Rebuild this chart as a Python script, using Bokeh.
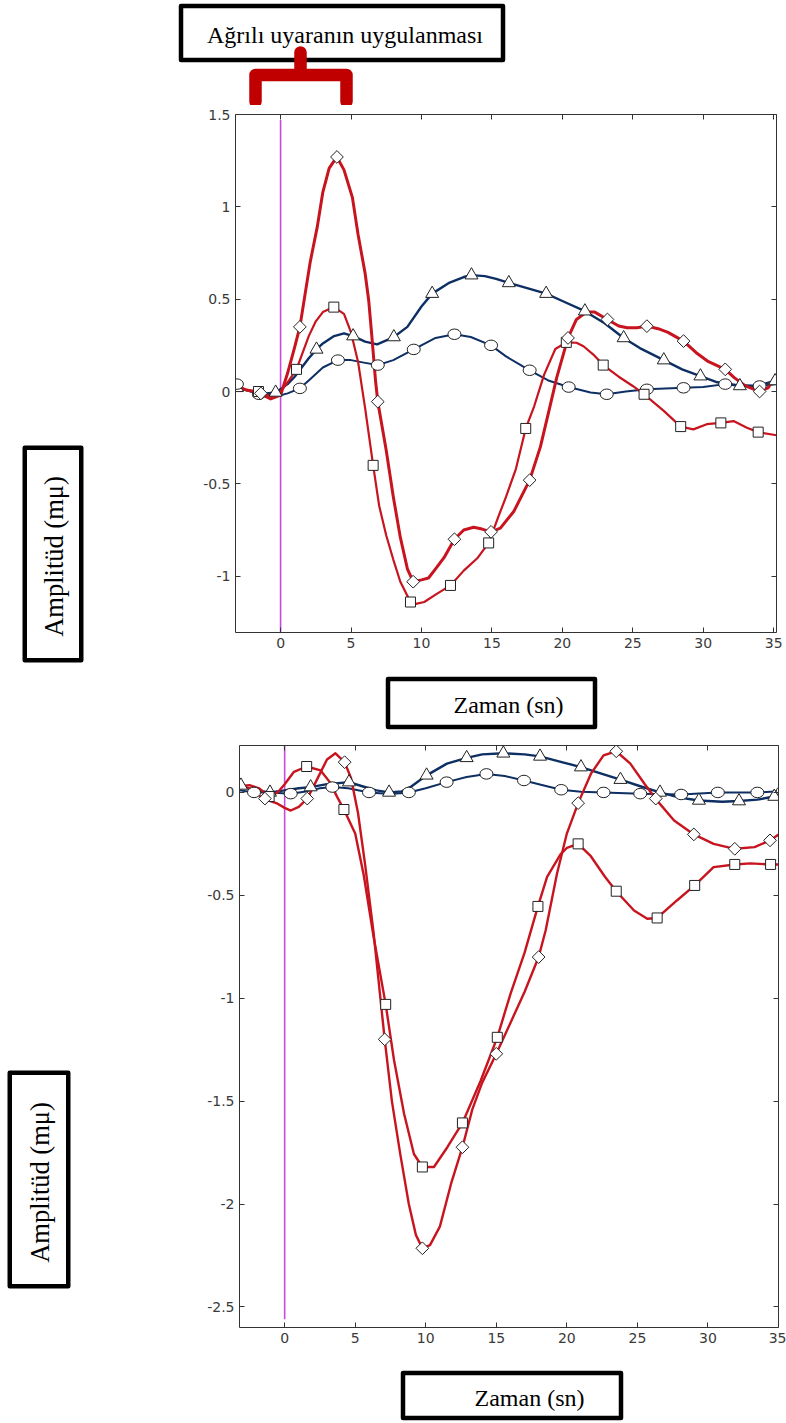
import math
from bokeh.plotting import figure
from bokeh.models import Range1d, LinearAxis, FixedTicker, CustomJSTickFormatter
from bokeh.layouts import column, row
from bokeh.core.properties import value
from bokeh.embed import file_html
from bokeh.resources import INLINE

# ---------------- data: upper panel ----------------
top_dia_x = [-3.2, -2.5, -1.5, -0.7, 0.0, 0.5, 1.0, 1.37, 2.1, 2.6, 3.0, 3.45, 4.0, 4.5, 5.1,
             5.5, 6.0, 6.26, 6.5, 6.74, 6.9, 7.5, 8.0, 8.5, 9.0, 9.41, 10.0, 10.5, 11.0, 11.6,
             12.34, 13.0, 13.7, 14.3, 14.94, 15.6, 16.55, 17.68, 18.44, 19.0, 19.6, 20.4, 21.0,
             21.7, 22.3, 23.2, 24.0, 24.6, 25.3, 26.0, 26.8, 27.5, 28.6, 29.5, 30.3, 31.56, 32.2,
             33.0, 34.0, 34.6, 35.2]
top_dia_y = [0.03, 0.01, -0.01, -0.04, -0.02, 0.1, 0.24, 0.35, 0.7, 0.89, 1.08, 1.21, 1.27, 1.2, 1.05,
             0.85, 0.64, 0.49, 0.28, 0.057, -0.055, -0.32, -0.57, -0.79, -0.96, -1.03, -1.02, -1.01,
             -0.96, -0.90, -0.80, -0.75, -0.735, -0.745, -0.76, -0.74, -0.65, -0.48, -0.30, -0.12,
             0.075, 0.29, 0.39, 0.43, 0.43, 0.39, 0.355, 0.345, 0.345, 0.354, 0.34, 0.32, 0.273,
             0.21, 0.165, 0.12, 0.075, 0.03, 0.0, 0.02, 0.09]
top_dia_mx = [-1.4, 1.37, 4.0, 6.9, 9.41, 12.34, 14.94, 17.68, 20.4, 23.2, 26.0, 28.6, 31.56, 34.0]
top_dia_my = [-0.01, 0.35, 1.27, -0.055, -1.03, -0.80, -0.76, -0.48, 0.29, 0.39, 0.354, 0.273, 0.12, 0.0]

top_sq_x = [-3.2, -2.5, -1.5, -0.6, 0.0, 0.5, 1.13, 2.0, 2.5, 3.0, 3.78, 4.5, 5.0, 5.5, 6.0,
            6.57, 7.0, 7.5, 8.0, 8.5, 9.22, 9.6, 10.2, 11.0, 12.06, 13.0, 14.0, 14.77, 15.5, 16.0,
            16.7, 17.4, 18.0, 18.7, 19.5, 20.28, 21.0, 21.5, 22.2, 22.9, 24.0, 25.0, 25.8, 26.5,
            27.2, 28.4, 29.3, 30.25, 31.25, 32.15, 33.1, 33.9, 35.2]
top_sq_y = [0.02, 0.01, 0.0, -0.03, 0.0, 0.05, 0.12, 0.3, 0.38, 0.43, 0.457, 0.42, 0.32, 0.16, -0.09,
            -0.40, -0.62, -0.78, -0.91, -1.03, -1.14, -1.15, -1.14, -1.10, -1.05, -0.97, -0.9, -0.82,
            -0.67, -0.57, -0.42, -0.2, -0.08, 0.09, 0.23, 0.266, 0.264, 0.245, 0.2, 0.143, 0.08,
            0.03, -0.015, -0.06, -0.105, -0.19, -0.205, -0.177, -0.17, -0.16, -0.196, -0.22, -0.237]
top_sq_mx = [-1.57, 1.13, 3.78, 6.57, 9.22, 12.06, 14.77, 17.4, 20.28, 22.9, 25.8, 28.4, 31.25, 33.9]
top_sq_my = [0.0, 0.12, 0.457, -0.40, -1.14, -1.05, -0.82, -0.2, 0.266, 0.143, -0.015, -0.19, -0.17, -0.22]

top_tri_x = [-3.2, -2.0, -1.0, -0.35, 0.5, 1.0, 2.0, 2.55, 3.0, 3.8, 4.5, 5.15, 6.0, 6.85, 8.04,
             9.0, 10.0, 10.76, 12.0, 13.0, 13.55, 14.5, 15.3, 16.2, 17.5, 18.85, 20.0, 21.6, 23.0,
             24.35, 25.5, 27.2, 28.5, 29.8, 31.0, 32.6, 33.8, 35.2]
top_tri_y = [0.02, 0.0, -0.01, -0.005, 0.04, 0.08, 0.18, 0.228, 0.26, 0.3, 0.315, 0.30, 0.27, 0.255,
             0.295, 0.35, 0.46, 0.53, 0.59, 0.62, 0.63, 0.625, 0.61, 0.588, 0.56, 0.53, 0.49, 0.435,
             0.37, 0.29, 0.235, 0.17, 0.12, 0.083, 0.05, 0.03, 0.03, 0.06]
top_tri_mx = [-3.1, -0.35, 2.55, 5.15, 8.04, 10.76, 13.55, 16.2, 18.85, 21.6, 24.35, 27.2, 29.8, 32.6, 35.1]
top_tri_my = [0.02, -0.005, 0.228, 0.30, 0.295, 0.53, 0.63, 0.588, 0.53, 0.435, 0.29, 0.17, 0.083, 0.03, 0.057]

top_cir_x = [-3.2, -2.5, -1.54, -0.5, 0.0, 0.5, 1.37, 2.0, 3.0, 4.07, 5.0, 6.0, 6.9, 8.0, 9.45,
             11.0, 12.34, 13.5, 14.94, 16.0, 17.68, 19.0, 20.45, 22.0, 23.15, 24.5, 26.0, 28.6,
             30.0, 31.56, 32.5, 34.0, 35.2]
top_cir_y = [0.04, 0.01, -0.015, -0.02, -0.02, -0.01, 0.017, 0.06, 0.13, 0.17, 0.17, 0.155, 0.143,
             0.17, 0.228, 0.29, 0.31, 0.295, 0.25, 0.19, 0.115, 0.06, 0.024, -0.005, -0.015, 0.0,
             0.012, 0.02, 0.025, 0.04, 0.035, 0.03, 0.04]
top_cir_mx = [-3.1, -1.54, 1.37, 4.07, 6.9, 9.45, 12.34, 14.94, 17.68, 20.45, 23.15, 26.0, 28.6, 31.56, 34.0]
top_cir_my = [0.04, -0.015, 0.017, 0.17, 0.143, 0.228, 0.31, 0.25, 0.115, 0.024, -0.015, 0.012, 0.02, 0.04, 0.03]

# ---------------- data: lower panel ----------------
bot_dia_x = [-3.2, -2.5, -1.5, -0.5, 0.0, 0.43, 1.0, 1.6, 2.2, 3.0, 3.6, 4.25, 4.7, 5.2, 5.7,
             6.3, 7.09, 7.6, 8.2, 8.8, 9.3, 9.76, 10.3, 11.0, 11.8, 12.6, 13.3, 14.0, 15.0, 16.0,
             17.0, 18.0, 18.5, 19.3, 20.0, 20.8, 21.7, 22.6, 23.5, 24.5, 25.5, 26.4, 27.6, 29.0,
             30.4, 31.9, 33.3, 34.4, 35.1]
bot_dia_y = [0.03, 0.02, -0.03, -0.055, -0.075, -0.088, -0.07, -0.03, 0.05, 0.16, 0.19, 0.147, 0.07,
             -0.1, -0.35, -0.68, -1.20, -1.50, -1.76, -2.0, -2.15, -2.215, -2.2, -2.11, -1.9, -1.724,
             -1.54, -1.41, -1.27, -1.12, -0.97, -0.80, -0.67, -0.395, -0.2, -0.052, 0.09, 0.18, 0.20,
             0.14, 0.042, -0.04, -0.136, -0.204, -0.25, -0.274, -0.266, -0.233, -0.2]
bot_dia_mx = [-1.4, 1.6, 4.25, 7.09, 9.76, 12.6, 15.0, 18.0, 20.8, 23.5, 26.3, 29.0, 31.9, 34.4]
bot_dia_my = [-0.03, -0.03, 0.147, -1.20, -2.215, -1.724, -1.27, -0.80, -0.052, 0.20, -0.03, -0.204, -0.274, -0.233]

bot_sq_x = [-3.2, -2.5, -1.8, -1.1, -0.5, 0.0, 0.66, 1.56, 2.55, 3.2, 3.73, 4.2, 5.0, 5.6, 6.3,
            7.16, 7.75, 8.46, 9.16, 9.76, 10.58, 11.53, 12.6, 13.9, 15.07, 16.0, 17.0, 17.95, 18.6,
            19.56, 20.0, 20.8, 21.7, 22.7, 23.5, 24.76, 25.7, 26.4, 27.8, 29.06, 30.4, 31.9, 33.0,
            34.44, 35.1]
bot_sq_y = [0.03, 0.035, 0.02, -0.02, 0.0, 0.04, 0.1, 0.126, 0.107, 0.05, -0.023, -0.083, -0.2, -0.4,
            -0.7, -1.03, -1.30, -1.56, -1.757, -1.82, -1.82, -1.724, -1.606, -1.40, -1.19, -0.98,
            -0.78, -0.554, -0.41, -0.30, -0.27, -0.25, -0.31, -0.41, -0.48, -0.574, -0.614, -0.61,
            -0.525, -0.452, -0.363, -0.35, -0.345, -0.35, -0.35]
bot_sq_mx = [-1.1, 1.56, 4.2, 7.16, 9.76, 12.6, 15.07, 17.95, 20.8, 23.5, 26.4, 29.06, 31.9, 34.44]
bot_sq_my = [-0.02, 0.126, -0.083, -1.03, -1.82, -1.606, -1.19, -0.554, -0.25, -0.48, -0.61, -0.452, -0.35, -0.35]

bot_tri_x = [-3.2, -2.0, -1.04, 0.0, 1.0, 1.84, 3.0, 4.56, 5.5, 6.5, 7.4, 8.3, 9.0, 10.06, 11.5,
             12.9, 14.0, 15.5, 17.0, 18.1, 19.5, 21.0, 22.5, 23.8, 25.2, 26.6, 28.0, 29.36, 31.0,
             32.2, 33.5, 34.7, 35.1]
bot_tri_y = [0.03, 0.01, 0.0, 0.01, 0.02, 0.026, 0.04, 0.05, 0.03, 0.01, 0.0, 0.005, 0.03, 0.083,
             0.14, 0.168, 0.185, 0.19, 0.185, 0.175, 0.15, 0.123, 0.09, 0.062, 0.03, 0.0, -0.025,
             -0.039, -0.045, -0.042, -0.035, -0.02, -0.01]
bot_tri_mx = [-3.1, -1.04, 1.84, 4.56, 7.4, 10.06, 12.9, 15.5, 18.1, 21.0, 23.8, 26.6, 29.36, 32.2, 34.7]
bot_tri_my = [0.034, 0.0, 0.026, 0.05, 0.0, 0.083, 0.168, 0.19, 0.175, 0.123, 0.062, 0.0, -0.039, -0.042, -0.02]

bot_cir_x = [-3.2, -2.17, -1.0, 0.43, 1.5, 2.5, 3.38, 4.5, 5.98, 7.5, 8.8, 10.0, 11.48, 12.9, 14.3,
             15.6, 16.96, 18.3, 19.6, 21.0, 22.6, 25.2, 28.1, 30.7, 33.5, 35.1]
bot_cir_y = [0.01, 0.0, 0.0, -0.006, 0.005, 0.02, 0.026, 0.02, 0.0, -0.008, 0.0, 0.02, 0.05, 0.075,
             0.09, 0.08, 0.058, 0.035, 0.013, 0.003, 0.0, -0.006, -0.01, 0.0, 0.0, 0.006]
bot_cir_mx = [-2.17, 0.43, 3.38, 5.98, 8.8, 11.48, 14.3, 16.96, 19.6, 22.6, 25.2, 28.1, 30.7, 33.5, 35.3]
bot_cir_my = [0.0, -0.006, 0.026, 0.0, 0.0, 0.05, 0.09, 0.058, 0.013, 0.0, -0.006, -0.01, 0.0, 0.0, 0.006]

# axes / ticks
x_ticks = [0, 5, 10, 15, 20, 25, 30, 35]
top_y_ticks = [-1, -0.5, 0, 0.5, 1, 1.5]
bot_y_ticks = [-2.5, -2, -1.5, -1, -0.5, 0]
stim_time = 0

title_text = "Ağrılı uyaranın uygulanması"
ylabel_text = "Amplitüd (mμ)"
xlabel_text = "Zaman (sn)"

RED = "#c8141e"
BLUE = "#0d2f63"
MAGENTA = "#c84be0"
BRACKET = "#c00000"
AX = "#333333"
MK_LINE = "#222222"
SERIF = "Liberation Serif"


def make_panel(width, height, borders, xr, yr, yticks, stim_span):
    left, right, top, bottom = borders
    p = figure(width=width, height=height, x_range=Range1d(*xr), y_range=Range1d(*yr),
               output_backend="svg", toolbar_location=None,
               min_border_left=left, min_border_right=right,
               min_border_top=top, min_border_bottom=bottom,
               x_axis_location=None, y_axis_location=None)
    p.frame_align = False
    p.grid.visible = False
    p.outline_line_color = None
    fmt = CustomJSTickFormatter(code="return tick.toString();")
    blank = CustomJSTickFormatter(code="return '';")
    specs = [("below", x_ticks, fmt), ("left", yticks, fmt),
             ("above", x_ticks, blank), ("right", yticks, blank)]
    for side, ticks, f in specs:
        ax = LinearAxis(ticker=FixedTicker(ticks=ticks), formatter=f)
        ax.major_tick_in = 5
        ax.major_tick_out = 0
        ax.minor_tick_in = 0
        ax.minor_tick_out = 0
        ax.axis_line_color = AX
        ax.major_tick_line_color = AX
        ax.major_label_text_font = "DejaVu Sans"
        ax.major_label_text_font_size = "14px"
        ax.major_label_text_color = "#3a3a3a"
        if f is blank:
            ax.major_label_text_font_size = "0px"
            ax.major_label_standoff = 0
        else:
            ax.major_label_standoff = 5
        p.add_layout(ax, side)
    p.segment(x0=[stim_time], y0=[stim_span[0]], x1=[stim_time], y1=[stim_span[1]],
              line_color=MAGENTA, line_width=1.6)
    return p


def draw_series(p, series):
    for s in series:
        p.line(s[0], s[1], line_color=s[4], line_width=s[5], line_join="round")
    for s in series:
        mx, my, kind = s[2], s[3], s[6]
        if kind == "diamond":
            p.scatter(mx, my, marker="square", angle=math.pi / 4, size=9,
                      fill_color="white", line_color=MK_LINE, line_width=1)
        elif kind == "square":
            p.scatter(mx, my, marker="square", size=10,
                      fill_color="white", line_color=MK_LINE, line_width=1)
        elif kind == "triangle":
            p.scatter(mx, my, marker="triangle", size=13,
                      fill_color="white", line_color=MK_LINE, line_width=1)
        else:
            p.ellipse(x=mx, y=my, width=13, height=10.5, width_units="screen",
                      height_units="screen", fill_color="white",
                      line_color=MK_LINE, line_width=1)


def deco(width, height):
    """Plain drawing surface whose units are pixels (y downward)."""
    d = figure(width=width, height=height, x_range=Range1d(0, width), y_range=Range1d(height, 0),
               output_backend="svg", toolbar_location=None, min_border=0,
               min_border_left=0, min_border_right=0, min_border_top=0, min_border_bottom=0,
               x_axis_location=None, y_axis_location=None)
    d.frame_align = False
    d.grid.visible = False
    d.outline_line_color = None
    return d


def frame_box(d, l, t, r, b):
    d.quad(left=[l], right=[r], top=[t], bottom=[b], fill_color="white",
           line_color="black", line_width=4.5, line_join="round")


def serif_text(d, x, y, text, angle=0.0, size="24px"):
    d.text(x=[x], y=[y], text=[text], angle=angle, text_font=value(SERIF),
           text_font_size=value(size), text_color="black",
           text_align="center", text_baseline="middle")


# ---------------- header: title box + bracket ----------------
header = deco(786, 105)
frame_box(header, 180.5, 5.5, 502.5, 59.5)
serif_text(header, 344.5, 34, title_text)
header.line(x=[255, 255, 346, 346], y=[101, 74.5, 74.5, 101], line_color=BRACKET,
            line_width=12.5, line_join="round", line_cap="round")
header.line(x=[300, 300], y=[74, 52], line_color=BRACKET, line_width=12.5, line_cap="round")

# ---------------- upper panel ----------------
Y0_ROW1 = 105
left1 = deco(195, 562)
frame_box(left1, 24.25, 447.25 - Y0_ROW1, 80.75, 659.75 - Y0_ROW1)
serif_text(left1, 53, 556 - Y0_ROW1, ylabel_text, angle=math.pi / 2, size="26.5px")

p1 = make_panel(591, 562, (40, 10, 9, 35), (-3.2, 35.2), (-1.305, 1.5), top_y_ticks, (1.47, -1.305))
draw_series(p1, [
    (top_tri_x, top_tri_y, top_tri_mx, top_tri_my, BLUE, 2.4, "triangle"),
    (top_cir_x, top_cir_y, top_cir_mx, top_cir_my, BLUE, 2.0, "circle"),
    (top_sq_x, top_sq_y, top_sq_mx, top_sq_my, RED, 2.2, "square"),
    (top_dia_x, top_dia_y, top_dia_mx, top_dia_my, RED, 3.0, "diamond"),
])

Y0_FOOT1 = 667
foot1 = deco(786, 68)
frame_box(foot1, 387.5, 678.5 - Y0_FOOT1, 594.5, 726.5 - Y0_FOOT1)
serif_text(foot1, 508, 704 - Y0_FOOT1, xlabel_text)

# ---------------- lower panel ----------------
Y0_ROW2 = 735
left2 = deco(199, 625)
frame_box(left2, 9.25, 1072.25 - Y0_ROW2, 67.75, 1285.75 - Y0_ROW2)
serif_text(left2, 39, 1182 - Y0_ROW2, ylabel_text, angle=math.pi / 2, size="26.5px")

p2 = make_panel(587, 625, (40, 8, 10, 33), (-3.2, 35.0), (-2.6, 0.228), bot_y_ticks, (0.228, -2.56))
draw_series(p2, [
    (bot_tri_x, bot_tri_y, bot_tri_mx, bot_tri_my, BLUE, 2.4, "triangle"),
    (bot_cir_x, bot_cir_y, bot_cir_mx, bot_cir_my, BLUE, 2.0, "circle"),
    (bot_sq_x, bot_sq_y, bot_sq_mx, bot_sq_my, RED, 2.4, "square"),
    (bot_dia_x, bot_dia_y, bot_dia_mx, bot_dia_my, RED, 2.4, "diamond"),
])

Y0_FOOT2 = 1360
foot2 = deco(786, 63)
frame_box(foot2, 402.5, 1372.5 - Y0_FOOT2, 620.5, 1417.5 - Y0_FOOT2)
serif_text(foot2, 529, 1397 - Y0_FOOT2, xlabel_text)

layout = column(header, row(left1, p1, spacing=0), foot1,
                row(left2, p2, spacing=0), foot2, spacing=0)
open("out.html", "w").write(file_html(layout, INLINE))
